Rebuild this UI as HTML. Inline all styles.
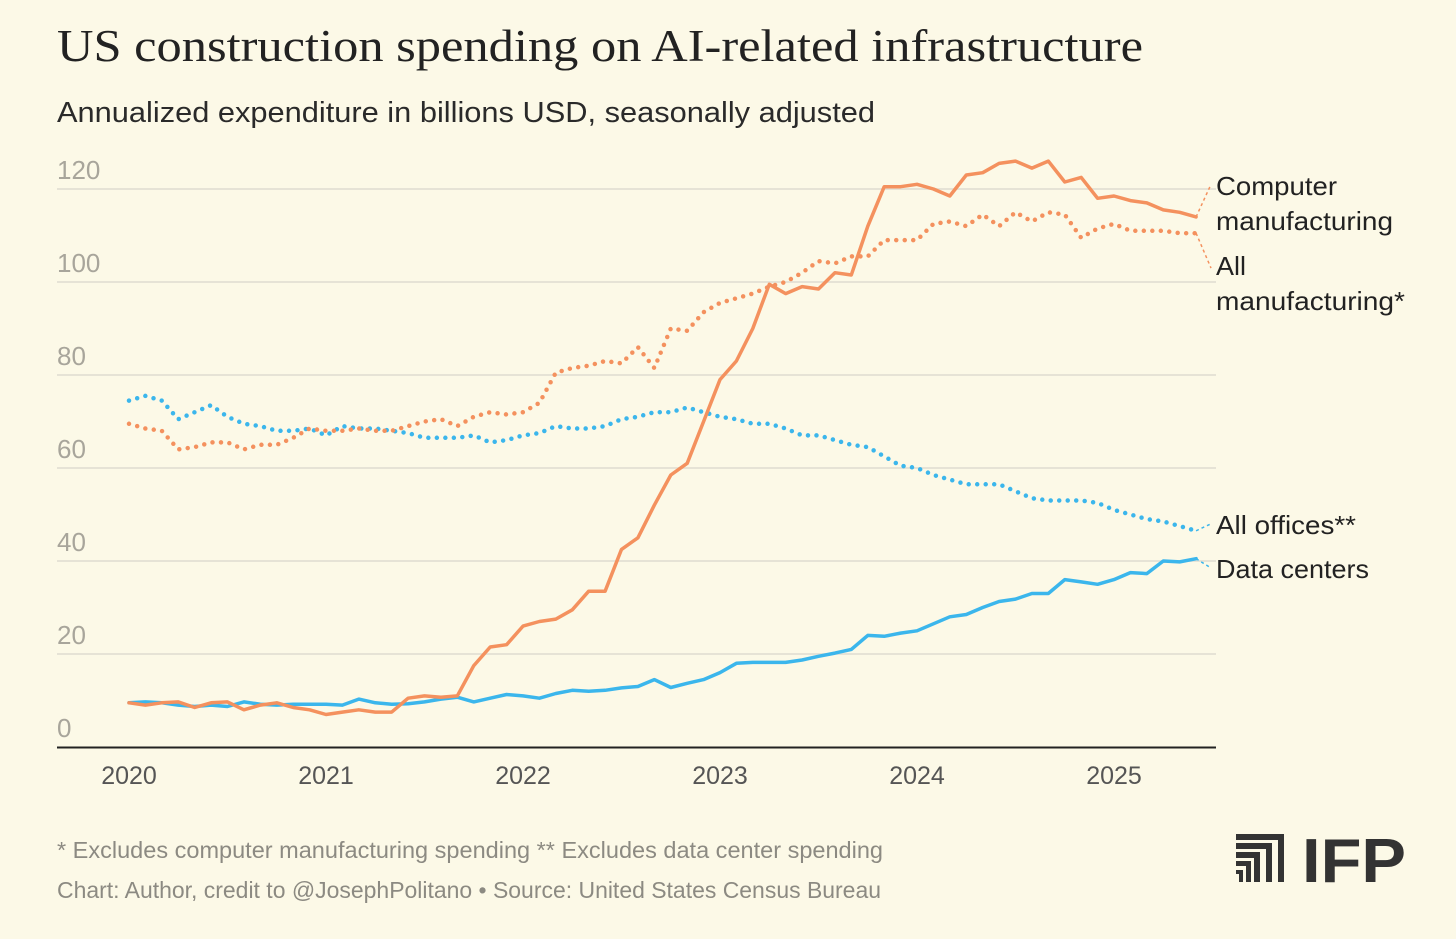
<!DOCTYPE html>
<html><head><meta charset="utf-8"><style>
html,body{margin:0;padding:0;background:#fcf9e7;}
body{width:1456px;height:934px;overflow:hidden;font-family:"Liberation Sans",sans-serif;}
</style></head><body>
<svg id="chart" width="1456" height="934" viewBox="0 0 1456 934" xmlns="http://www.w3.org/2000/svg">
<rect width="1456" height="934" fill="#fcf9e7"/>
<text x="57" y="61" font-family="Liberation Serif, serif" font-size="45" fill="#222" textLength="1086" lengthAdjust="spacingAndGlyphs">US construction spending on AI-related infrastructure</text>
<text x="57" y="122" font-size="29" fill="#2a2a2a" textLength="818" lengthAdjust="spacingAndGlyphs">Annualized expenditure in billions USD, seasonally adjusted</text>
<g id="grid"></g><g id="series"></g><g id="labels"></g>
<text x="57" y="858" font-size="23" fill="#8c8a82" textLength="826" lengthAdjust="spacingAndGlyphs">* Excludes computer manufacturing spending ** Excludes data center spending</text>
<text x="57" y="898" font-size="23" fill="#8c8a82" textLength="824" lengthAdjust="spacingAndGlyphs">Chart: Author, credit to @JosephPolitano • Source: United States Census Bureau</text>
<g fill="#333">
<path d="M1236 834h48v48h-6v-42h-42z M1236 843h36v39h-6v-33h-30z M1236 852h24v30h-6v-24h-18z M1236 861h15v21h-5v-16h-10z M1236 870h7v12h-4v-8h-3z"/>
<text x="1302" y="882" font-size="62" font-weight="bold" fill="#333" textLength="104" lengthAdjust="spacingAndGlyphs">IFP</text>
</g>
</svg>
<script>
const yTicks=[0,20,40,60,80,100,120];
const xYears=[2020,2021,2022,2023,2024,2025];
const computerMfg=[9.5,9,9.5,9.7,8.5,9.5,9.7,8,9,9.5,8.5,8, 7,7.5,8,7.5,7.5,10.5,11,10.7,11,17.5,21.5,22, 26,27,27.5,29.5,33.5,33.5,42.5,45,52,58.5,61,70, 79,83,90,99.5,97.5,99,98.5,102,101.5,112,120.5,120.5, 121,120,118.5,123,123.5,125.5,126,124.5,126,121.5,122.5,118, 118.5,117.5,117,115.5,115,114];
const allMfg=[69.5,68.5,68,64,64.5,65.5,65.5,64,65,65,66.5,68.5, 68,68,68.5,68,68,69,70,70.5,69,71,72,71.5, 72,74,80.5,81.5,82,83,82.5,86,81.5,90,89.5,93.5, 95.5,96.5,97.5,99,100,102,104.5,104,105.5,105.5,109,109, 109,112.5,113,112,114.5,112,115,113,115,114.5,109.5,111.5, 112.5,111,111,111,110.5,110.5];
const allOffices=[74.5,75.5,74.5,70.5,72,73.5,71,69.5,69,68,68,68.5, 67,69,68.5,68.5,68,67.5,66.5,66.5,66.5,67,65.5,66, 67,67.5,69,68.5,68.5,69,70.5,71,72,72,73,72, 71,70.5,69.5,69.5,68.5,67,67,66,65,64.5,62.5,60.5, 60,58.5,57.5,56.5,56.5,56.5,55,53.5,53,53,53,52.5, 51,50,49,48.5,47.5,46.5];
const dataCenters=[9.5,9.7,9.5,9,8.7,9,8.7,9.7,9.2,9,9.2,9.2, 9.2,9,10.3,9.5,9.2,9.3,9.7,10.3,10.7,9.7,10.5,11.3, 11,10.5,11.5,12.2,12,12.2,12.7,13,14.5,12.8,13.7,14.5, 16,18,18.2,18.2,18.2,18.7,19.5,20.2,21,24,23.8,24.5, 25,26.5,28,28.5,30,31.3,31.8,33,33,36,35.5,35, 36,37.5,37.3,40,39.8,40.5];
const NS="http://www.w3.org/2000/svg";
const y=v=>747-v*4.65;
const x=m=>129+m*197/12;
function mk(tag,attrs,parent){const e=document.createElementNS(NS,tag);for(const k in attrs)e.setAttribute(k,attrs[k]);parent.appendChild(e);return e;}
const grid=document.getElementById('grid');
yTicks.forEach(t=>{
  if(t>0){const l=mk('line',{x1:57,x2:1216,y1:y(t),y2:y(t),stroke:'#e6e3d6','stroke-width':2},grid);
  
  }
  const tx=mk('text',{x:57,y:y(t)-10,'font-size':26,fill:'#a8a59b'},grid);tx.textContent=t;
  
  
});
const ax=mk('line',{x1:57,x2:1216,y1:747.5,y2:747.5,stroke:'#222','stroke-width':2},grid);


xYears.forEach((yr,i)=>{const tx=mk('text',{x:x(i*12),y:784,'font-size':25,fill:'#555','text-anchor':'middle'},grid);tx.textContent=yr;
  
  });
const sg=document.getElementById('series');
function line(arr,color,dotted,name,labelY){
  const d=arr.map((v,i)=>(i?'L':'M')+x(i).toFixed(1)+' '+y(v).toFixed(1)).join(' ');
  const p=mk('path',{d:d,fill:'none',stroke:color,'stroke-width':dotted?4:3.5,'stroke-linejoin':'round','stroke-linecap':'round'},sg);
  if(dotted){p.setAttribute('stroke-dasharray','0 8.5');p.setAttribute('stroke-width','4.5');}
  
  
  const n=arr.length-1;
  const ld=mk('line',{x1:x(n),y1:y(arr[n]),x2:1211,y2:labelY,stroke:color,'stroke-width':1.5,'stroke-dasharray':'3 3'},sg);
  
  
}
line(allOffices,'#3bb6ec',true,'all-offices',y(48));
line(allMfg,'#f4915e',true,'all-manufacturing',y(103));
line(dataCenters,'#3bb6ec',false,'data-centers',y(38.5));
line(computerMfg,'#f4915e',false,'computer-manufacturing',y(121));
const lg=document.getElementById('labels');
[['Computer',186,'computer-manufacturing-label',121],['manufacturing',221,'computer-manufacturing-label-2',177],['All',266,'all-manufacturing-label',30],['manufacturing*',301,'all-manufacturing-label-2',189],['All offices**',525,'all-offices-label',140],['Data centers',569,'data-centers-label',153]].forEach(a=>{
  const t=mk('text',{x:1216,y:a[1]+9,'font-size':26,fill:'#222',textLength:a[3],lengthAdjust:'spacingAndGlyphs'},lg);t.textContent=a[0];
  
  
});
</script>
</body></html>
